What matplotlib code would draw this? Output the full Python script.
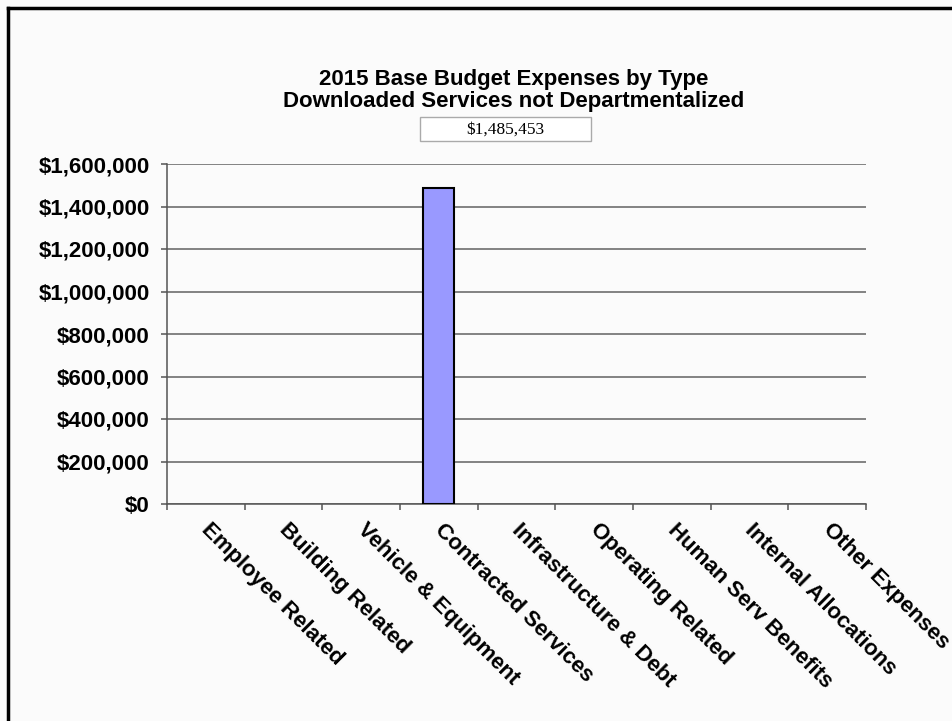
import matplotlib
matplotlib.use("Agg")
import matplotlib.pyplot as plt
from matplotlib.lines import Line2D
from matplotlib.patches import Rectangle
from matplotlib.ticker import FuncFormatter, MultipleLocator
import matplotlib.transforms as mtransforms

categories = ["Employee Related", "Building Related", "Vehicle & Equipment",
              "Contracted Services", "Infrastructure & Debt", "Operating Related",
              "Human Serv Benefits", "Internal Allocations", "Other Expenses"]
values = [0, 0, 0, 1485453, 0, 0, 0, 0, 0]
title_lines = ["2015 Base Budget Expenses by Type",
               "Downloaded Services not Departmentalized"]

W, H = 952, 721
bg = "#fbfbfb"
plt.rcParams["font.family"] = ["Liberation Sans", "DejaVu Sans"]

fig = plt.figure(figsize=(W / 100, H / 100), dpi=100, facecolor=bg)
ax = fig.add_axes([167 / W, 1 - 504 / H, (866 - 167) / W, (504 - 164) / H])
ax.set_facecolor(bg)

# bars sit in the middle of each category slot
pos = [i + 0.5 for i in range(len(categories))]
for p, v in zip(pos, values):
    if v > 0:
        ax.bar(p, v, width=0.4, color="#9999ff", edgecolor="black",
               linewidth=1.5, zorder=3)

ax.set_xlim(0, len(categories))
ax.set_ylim(0, 1600000)
ax.yaxis.set_major_locator(MultipleLocator(200000))
ax.yaxis.set_major_formatter(FuncFormatter(lambda v, _: "${:,.0f}".format(v)))
ax.set_xticks(range(len(categories) + 1))
ax.set_xticklabels([])
ax.grid(axis="y", color="#6e6e6e", linewidth=1.2, zorder=0)

for s in ["top", "right"]:
    ax.spines[s].set_visible(False)
for s in ["left", "bottom"]:
    ax.spines[s].set_color("#555555")
    ax.spines[s].set_linewidth(1.1)
ax.tick_params(axis="both", direction="out", length=4.5, width=1.1,
               color="#555555")
ax.tick_params(axis="y", labelsize=16, pad=8)
for lbl in ax.get_yticklabels():
    lbl.set_fontweight("bold")

# slanted category names
trans = mtransforms.blended_transform_factory(ax.transData, ax.transAxes)
for p, name in zip(pos, categories):
    ax.text(p + 0.08, -0.045, name, transform=trans, rotation=-45,
            rotation_mode="anchor", ha="left", va="top",
            fontsize=16, fontweight="bold")

# title
fig.text(514 / W, 1 - 79 / H, title_lines[0], ha="center", va="center",
         fontsize=16, fontweight="bold")
fig.text(514 / W, 1 - 102 / H, title_lines[1], ha="center", va="center",
         fontsize=16, fontweight="bold")

# value box under the title
fig.add_artist(Rectangle((420 / W, 1 - 141 / H), 171 / W, 24 / H,
                         transform=fig.transFigure, facecolor="white",
                         edgecolor="#aaaaaa", linewidth=1))
fig.text(505.5 / W, 1 - 129.5 / H, "${:,.0f}".format(max(values)),
         ha="center", va="center", fontsize=12.5,
         family=["Liberation Serif", "DejaVu Serif"])

# outer frame, open on the right and bottom
fig.add_artist(Line2D([8 / W, 8 / W], [0, 1 - 8 / H], color="black",
                      linewidth=2.5, transform=fig.transFigure))
fig.add_artist(Line2D([8 / W, 1], [1 - 8 / H, 1 - 8 / H], color="black",
                      linewidth=2.5, transform=fig.transFigure))

fig.savefig("out.png", dpi=100, facecolor=bg)
